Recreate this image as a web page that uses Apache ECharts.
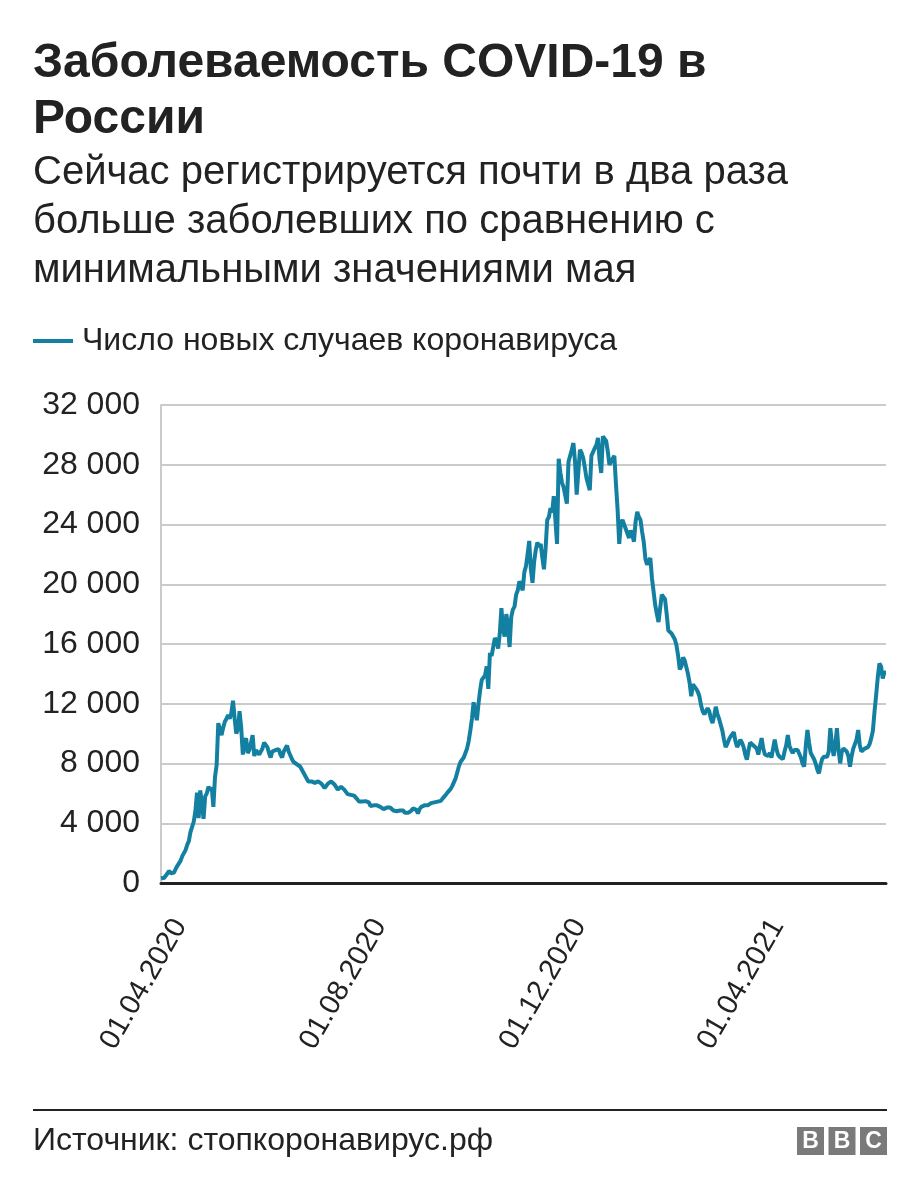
<!DOCTYPE html>
<html>
<head>
<meta charset="utf-8">
<script src="https://cdn.jsdelivr.net/npm/echarts@6/dist/echarts.min.js"></script>
<style>
html,body{margin:0;padding:0;background:#fff;}
#chart{width:920px;height:1198px;}
</style>
</head>
<body>
<div id="chart"></div>
<script>
// Daily new cases, 28.03.2020 – 14.06.2021
const m2020_03 = [300, 280, 350, 500];
const m2020_04 = [450, 800, 650, 600, 700, 950, 1150, 1200, 1500, 1800, 1700, 2200, 2550, 2800, 3400, 3450, 4100, 4800, 6050, 4350, 6200, 5300, 4300, 5800, 6000, 6450, 6200, 6400, 5100, 7100];
const m2020_05 = [7900, 10700, 10650, 9900, 10400, 10800, 11000, 11250, 11000, 11400, 12200, 11000, 10000, 10300, 11500, 10400, 8600, 9300, 9700, 8700, 8900, 9000, 9900, 8500, 8900, 8900, 8600, 8700, 9000, 9400, 9500];
const m2020_06 = [9100, 8700, 8400, 8800, 8700, 8900, 9000, 8950, 8600, 8400, 8800, 9000, 9200, 8800, 8900, 8300, 8100, 8000, 7950, 7900, 7800, 7600, 7400, 7200, 7000, 6800, 6850, 6800, 6750, 6700];
const m2020_07 = [6600, 6800, 6800, 6650, 6750, 6350, 6500, 6650, 6600, 6800, 6700, 6600, 6550, 6250, 6300, 6450, 6400, 6250, 6100, 5950, 5900, 5900, 5850, 5850, 5800, 5600, 5450, 5400, 5450, 5500, 5480];
const m2020_08 = [5450, 5400, 5150, 5250, 5200, 5250, 5200, 5200, 5100, 5050, 4950, 5050, 5050, 5050, 5050, 4950, 4850, 4750, 4800, 4750, 4850, 4900, 4850, 4700, 4700, 4700, 4750, 4850, 5000, 5000, 4900];
const m2020_09 = [4650, 4950, 5100, 5200, 5200, 5200, 5200, 5100, 5350, 5300, 5400, 5400, 5450, 5500, 5500, 5650, 5750, 5900, 6050, 6150, 6300, 6500, 6750, 7000, 7400, 7800, 8100, 8250, 8400, 8700];
const m2020_10 = [9000, 9500, 10200, 11000, 12100, 11500, 10900, 12000, 12900, 13600, 13500, 13900, 14500, 13000, 15400, 15200, 15800, 16400, 16200, 15700, 16700, 18400, 17000, 16500, 18000, 17200, 15800, 17800, 18300, 18500, 19300];
const m2020_11 = [19600, 20200, 20100, 19600, 20800, 21200, 22000, 22900, 21000, 20100, 21500, 22300, 22800, 22500, 22700, 21800, 21000, 22400, 24300, 24500, 25100, 24800, 25900, 24300, 22700, 28400, 27500, 26800, 26500, 26400];
const m2020_12 = [25400, 28200, 28600, 29000, 29450, 28200, 26000, 27500, 29000, 28800, 28450, 27800, 27100, 26700, 26300, 28600, 28500, 29100, 29300, 29800, 28300, 27450, 29900, 29800, 29600, 28900, 28000, 28000, 28400, 28600, 26700];
const m2021_01 = [25000, 22700, 24100, 24300, 24000, 24100, 23400, 23100, 23600, 23300, 22850, 24200, 24850, 24500, 24300, 23500, 22800, 21700, 21300, 21600, 21750, 20400, 19500, 18600, 18000, 17470, 18400, 19300, 19200, 19000, 18000];
const m2021_02 = [16900, 16800, 16700, 16500, 16300, 15900, 15200, 14300, 14500, 15100, 14900, 14800, 14000, 13400, 12500, 13300, 13400, 13000, 12800, 12500, 11900, 11500, 11300, 11300, 11700, 11500, 11000, 10700];
const m2021_03 = [11200, 11800, 11300, 11000, 10600, 10200, 9600, 9100, 9300, 9600, 9800, 9900, 10100, 9500, 9100, 9300, 9600, 9400, 9100, 8600, 8250, 8900, 9400, 9300, 9200, 9100, 9000, 8600, 9200, 9700, 9000];
const m2021_04 = [8600, 8700, 8500, 8700, 8400, 9000, 9600, 9000, 8600, 8450, 8500, 8300, 8800, 9200, 9900, 9200, 8900, 8700, 8900, 9000, 8900, 8800, 8400, 8000, 7790, 9200, 10240, 9400, 8700, 8500];
const m2021_05 = [8300, 8000, 7600, 7340, 7900, 8300, 8450, 8400, 8450, 8800, 10360, 9300, 8500, 9200, 10360, 8900, 8010, 8800, 9000, 8900, 8800, 8500, 7790, 8500, 9000, 9300, 9600, 10240, 9200, 8800, 8900];
const m2021_06 = [9000, 9100, 9100, 9300, 9700, 10200, 11500, 12600, 13800, 14700, 14500, 13700, 14100, 14100];

const startDate = [2020, 3, 28]; // year, month, day of first value
const xTickLabels = ['01.04.2020', '01.08.2020', '01.12.2020', '01.04.2021'];
const yTicks = [0, 4000, 8000, 12000, 16000, 20000, 24000, 28000, 32000];
const seriesName = 'Число новых случаев коронавируса';
const titleLines = ['Заболеваемость COVID-19 в', 'России'];
const subtitleLines = ['Сейчас регистрируется почти в два раза', 'больше заболевших по сравнению с', 'минимальными значениями мая'];
const sourceText = 'Источник: стопкоронавирус.рф';

const values = [].concat(m2020_03, m2020_04, m2020_05, m2020_06, m2020_07, m2020_08, m2020_09,
  m2020_10, m2020_11, m2020_12, m2021_01, m2021_02, m2021_03, m2021_04, m2021_05, m2021_06);

function pad(n){return n<10?'0'+n:''+n;}
const dates = [];
{
  const d = new Date(Date.UTC(startDate[0], startDate[1]-1, startDate[2]));
  for (let i = 0; i < values.length; i++) {
    dates.push(pad(d.getUTCDate()) + '.' + pad(d.getUTCMonth()+1) + '.' + d.getUTCFullYear());
    d.setUTCDate(d.getUTCDate()+1);
  }
}

const FONT = '"Liberation Sans", Arial, Helvetica, sans-serif';
const TEXT = '#222222';
const TEAL = '#1380A1';

const chart = echarts.init(document.getElementById('chart'), null, {renderer:'canvas'});

const graphics = [];
titleLines.forEach((t, i) => graphics.push({
  type:'text', x:33, y: 64 + i*56,
  style:{text:t, font:'bold 48px ' + FONT, fill:'#222222', textVerticalAlign:'middle'}
}));
subtitleLines.forEach((t, i) => graphics.push({
  type:'text', x:33, y: 173 + i*49,
  style:{text:t, font:'40px ' + FONT, fill:TEXT, textVerticalAlign:'middle'}
}));
graphics.push({type:'rect', shape:{x:33, y:1109, width:854, height:2}, style:{fill:'#222222'}});
graphics.push({type:'text', x:33, y:1141, style:{text:sourceText, font:'32px ' + FONT, fill:TEXT, textVerticalAlign:'middle'}});
['B','B','C'].forEach((ch, i) => {
  graphics.push({type:'rect', shape:{x:797 + i*31.5, y:1127, width:27, height:28}, style:{fill:'#7a7a7a'}});
  graphics.push({type:'text', x:797 + i*31.5 + 13.5, y:1142, style:{text:ch, font:'bold 23px ' + FONT, fill:'#ffffff', textAlign:'center', textVerticalAlign:'middle'}});
});

chart.setOption({
  animation:false,
  backgroundColor:'#ffffff',
  textStyle:{fontFamily:FONT},
  graphic: graphics,
  legend:{
    left:33, top:322, padding:0, icon:'rect', itemWidth:40, itemHeight:4, itemGap:10,
    textStyle:{fontSize:32, color:TEXT, fontFamily:FONT, padding:[0,0,0,4], lineHeight:38},
    data:[seriesName]
  },
  grid:{left:161, right:34, top:405, bottom:315, containLabel:false},
  xAxis:{
    type:'category', data:dates, boundaryGap:false,
    axisTick:{show:false},
    axisLine:{show:true, lineStyle:{color:'#222222', width:3}},
    axisLabel:{
      rotate:60, fontSize:29, color:TEXT, fontFamily:FONT, margin:60,
      padding:[0,-25,0,0],
      interval:(idx, val) => xTickLabels.indexOf(val) >= 0
    },
    splitLine:{show:false}
  },
  yAxis:{
    type:'value', min:yTicks[0], max:yTicks[yTicks.length-1], interval:4000,
    axisLine:{show:true, lineStyle:{color:'#cbcbcb', width:2}},
    axisTick:{show:false},
    axisLabel:{fontSize:32, color:TEXT, fontFamily:FONT, margin:21,
      formatter:v => v === 0 ? '0' : (v/1000) + ' 000'},
    splitLine:{show:true, lineStyle:{color:'#cbcbcb', width:2}}
  },
  series:[{
    name:seriesName, type:'line', data:values, showSymbol:false, symbol:'none',
    lineStyle:{color:TEAL, width:4}, itemStyle:{color:TEAL}, z:3
  }]
});
</script>
</body>
</html>
